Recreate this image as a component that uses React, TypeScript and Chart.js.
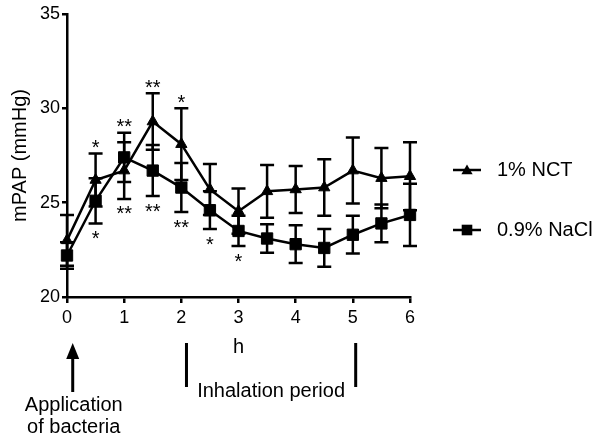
import React, { useEffect, useRef } from "react";
import { Chart, registerables } from "chart.js";

Chart.register(...registerables);

const FONT = "'Liberation Sans', Arial, Helvetica, sans-serif";

const hours = [0, 0.5, 1, 1.5, 2, 2.5, 3, 3.5, 4, 4.5, 5, 5.5, 6];
const nctMean = [23.0, 26.2, 26.7, 29.3, 28.1, 25.7, 24.55, 25.6, 25.7, 25.8, 26.7, 26.3, 26.4];
const nctErr = [1.35, 1.4, 1.5, 1.5, 1.9, 1.35, 1.2, 1.4, 1.25, 1.5, 1.75, 1.6, 1.8];
const naclMean = [22.2, 25.1, 27.4, 26.7, 25.8, 24.6, 23.5, 23.1, 22.8, 22.6, 23.3, 23.9, 24.35];
const naclErr = [0.7, 1.2, 1.3, 1.35, 1.3, 1.0, 0.8, 0.75, 1.0, 1.0, 1.0, 1.0, 1.65];
const starsAbove = ["", "*", "**", "**", "*", "", "", "", "", "", "", "", ""];
const starsBelow = ["", "*", "**", "**", "**", "*", "*", "", "", "", "", "", ""];
const xTicks = [0, 1, 2, 3, 4, 5, 6];
const yTicks = [20, 25, 30, 35];
const seriesLabels = ["1% NCT", "0.9% NaCl"];
const seriesStyles = ["triangle", "rect"];
const xTitle = "h";
const yTitle = "mPAP (mmHg)";
const arrowAt = 0.1;
const inhalationStart = 2.09;
const inhalationEnd = 5.05;
const arrowLabel = ["Application", "of bacteria"];
const periodLabel = "Inhalation period";

function drawMarker(ctx: CanvasRenderingContext2D, style: string, x: number, y: number, r: number) {
  ctx.beginPath();
  if (style === "triangle") {
    ctx.moveTo(x, y - r);
    ctx.lineTo(x + 0.866 * r, y + 0.5 * r);
    ctx.lineTo(x - 0.866 * r, y + 0.5 * r);
    ctx.closePath();
  } else {
    const s = Math.SQRT1_2 * r;
    ctx.rect(x - s, y - s, 2 * s, 2 * s);
  }
  ctx.fill();
}

const errorBarPlugin = {
  id: "errorBars",
  beforeDatasetsDraw(chart: any) {
    const { ctx, scales } = chart;
    const xs = scales.x;
    const ys = scales.y;
    ctx.save();
    ctx.strokeStyle = "#000";
    ctx.lineWidth = 2.5;
    const sets: [number[], number[]][] = [
      [nctMean, nctErr],
      [naclMean, naclErr],
    ];
    sets.forEach(([m, e]) => {
      hours.forEach((h, i) => {
        const px = xs.getPixelForValue(h);
        const t = ys.getPixelForValue(m[i] + e[i]);
        const b = ys.getPixelForValue(m[i] - e[i]);
        ctx.beginPath();
        ctx.moveTo(px, t);
        ctx.lineTo(px, b);
        ctx.moveTo(px - 7, t);
        ctx.lineTo(px + 7, t);
        ctx.moveTo(px - 7, b);
        ctx.lineTo(px + 7, b);
        ctx.stroke();
      });
    });
    ctx.restore();
  },
};

const annotationPlugin = {
  id: "annotations",
  afterDraw(chart: any) {
    const { ctx, scales, chartArea } = chart;
    const xs = scales.x;
    const ys = scales.y;
    ctx.save();
    ctx.fillStyle = "#000";
    ctx.strokeStyle = "#000";

    // significance stars
    ctx.font = `20px ${FONT}`;
    ctx.textAlign = "center";
    ctx.textBaseline = "alphabetic";
    hours.forEach((h, i) => {
      const px = xs.getPixelForValue(h);
      if (starsAbove[i]) {
        const top = Math.min(
          ys.getPixelForValue(nctMean[i] + nctErr[i]),
          ys.getPixelForValue(naclMean[i] + naclErr[i])
        );
        const c = top - 11;
        ctx.fillText(starsAbove[i], px, c + 11.6);
      }
      if (starsBelow[i]) {
        const bot = Math.max(
          ys.getPixelForValue(nctMean[i] - nctErr[i]),
          ys.getPixelForValue(naclMean[i] - naclErr[i])
        );
        const c = bot + 10;
        ctx.fillText(starsBelow[i], px, c + 11.6);
      }
    });

    // legend
    const lx = chartArea.right + 43;
    const legendRows = [chartArea.top + 156, chartArea.top + 216];
    ctx.font = `20px ${FONT}`;
    ctx.textAlign = "left";
    ctx.textBaseline = "middle";
    seriesLabels.forEach((lab, i) => {
      const ly = legendRows[i];
      ctx.lineWidth = 2.5;
      ctx.beginPath();
      ctx.moveTo(lx, ly);
      ctx.lineTo(lx + 28, ly);
      ctx.stroke();
      drawMarker(ctx, seriesStyles[i], lx + 14, ly + (seriesStyles[i] === "triangle" ? 1 : 0), seriesStyles[i] === "triangle" ? 6.5 : 7.5);
      ctx.fillText(lab, lx + 44, ly);
    });

    // bottom annotations
    const base = chartArea.bottom;
    const ax = xs.getPixelForValue(arrowAt);
    ctx.beginPath();
    ctx.moveTo(ax, base + 46);
    ctx.lineTo(ax + 6.5, base + 62);
    ctx.lineTo(ax - 6.5, base + 62);
    ctx.closePath();
    ctx.fill();
    ctx.lineWidth = 3;
    ctx.beginPath();
    ctx.moveTo(ax, base + 60);
    ctx.lineTo(ax, base + 95);
    ctx.stroke();
    ctx.textAlign = "center";
    ctx.textBaseline = "middle";
    ctx.fillText(arrowLabel[0], ax + 1, base + 108);
    ctx.fillText(arrowLabel[1], ax + 1, base + 130);

    const b1 = xs.getPixelForValue(inhalationStart);
    const b2 = xs.getPixelForValue(inhalationEnd);
    ctx.beginPath();
    ctx.moveTo(b1, base + 46);
    ctx.lineTo(b1, base + 90);
    ctx.moveTo(b2, base + 46);
    ctx.lineTo(b2, base + 90);
    ctx.stroke();
    ctx.fillText(periodLabel, (b1 + b2) / 2, base + 94);

    ctx.restore();
  },
};

export default function App() {
  const ref = useRef<HTMLCanvasElement | null>(null);

  useEffect(() => {
    if (!ref.current) return;
    const mk = (vals: number[]) => hours.map((h, i) => ({ x: h, y: vals[i] }));
    const chart = new Chart(ref.current, {
      type: "line",
      data: {
        datasets: [
          {
            label: seriesLabels[0],
            data: mk(nctMean),
            borderColor: "#000",
            backgroundColor: "#000",
            borderWidth: 2.5,
            tension: 0,
            pointStyle: "triangle",
            pointRadius: 6.5,
            pointBackgroundColor: "#000",
            pointBorderColor: "#000",
            pointBorderWidth: 1,
            clip: false,
          },
          {
            label: seriesLabels[1],
            data: mk(naclMean),
            borderColor: "#000",
            backgroundColor: "#000",
            borderWidth: 2.5,
            tension: 0,
            pointStyle: "rect",
            pointRadius: 8,
            pointBackgroundColor: "#000",
            pointBorderColor: "#000",
            pointBorderWidth: 1,
            clip: false,
          },
        ],
      },
      options: {
        responsive: false,
        animation: false,
        events: [],
        layout: { padding: { left: 0, top: 14, right: 190, bottom: 85 } },
        plugins: {
          legend: { display: false },
          tooltip: { enabled: false },
          title: { display: false },
        },
        scales: {
          x: {
            type: "linear",
            min: 0,
            max: 6,
            afterBuildTicks: (s: any) => {
              s.ticks = xTicks.map((v) => ({ value: v }));
            },
            afterFit: (s: any) => {
              s.height = 62;
            },
            ticks: {
              color: "#000",
              font: { family: FONT, size: 18 },
              padding: 4,
              maxRotation: 0,
              autoSkip: false,
            },
            grid: {
              drawOnChartArea: false,
              drawTicks: true,
              tickLength: 6,
              color: "#000",
              lineWidth: 2.5,
            },
            border: { display: true, color: "#000", width: 2.5 },
            title: {
              display: true,
              text: xTitle,
              color: "#000",
              font: { family: FONT, size: 20 },
              padding: { top: 0, bottom: 0 },
            },
          },
          y: {
            type: "linear",
            min: 20,
            max: 35,
            afterBuildTicks: (s: any) => {
              s.ticks = yTicks.map((v) => ({ value: v }));
            },
            afterFit: (s: any) => {
              s.width = 67;
            },
            ticks: {
              color: "#000",
              font: { family: FONT, size: 18 },
              padding: 2,
            },
            grid: {
              drawOnChartArea: false,
              drawTicks: true,
              tickLength: 5,
              color: "#000",
              lineWidth: 2.5,
            },
            border: { display: true, color: "#000", width: 2.5 },
            title: {
              display: true,
              text: yTitle,
              color: "#000",
              font: { family: FONT, size: 20 },
              padding: { top: 8, bottom: 0 },
            },
          },
        },
      },
      plugins: [errorBarPlugin, annotationPlugin],
    } as any);
    return () => chart.destroy();
  }, []);

  return (
    <div style={{ position: "absolute", left: 0, top: 0, width: 600, height: 444, background: "#fff" }}>
      <canvas ref={ref} width={600} height={444} style={{ width: 600, height: 444, display: "block" }} />
    </div>
  );
}
